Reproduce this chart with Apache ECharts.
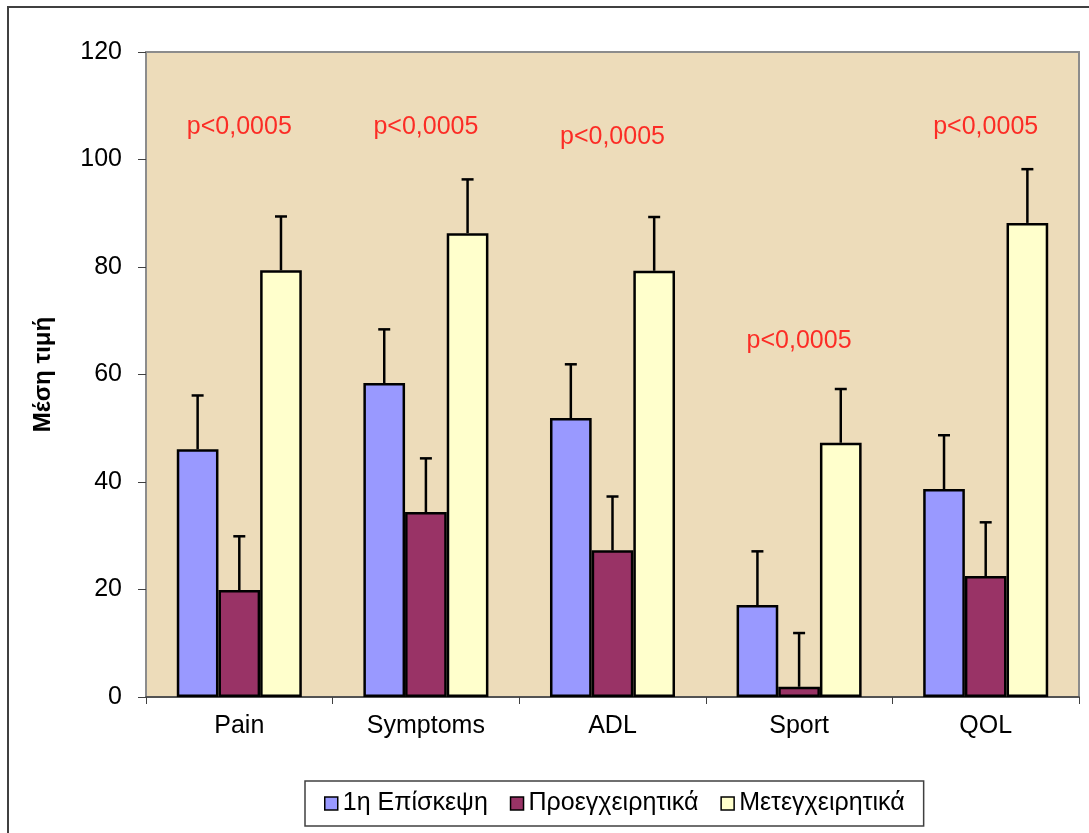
<!DOCTYPE html>
<html>
<head>
<meta charset="utf-8">
<script src="https://cdn.jsdelivr.net/npm/echarts@6/dist/echarts.min.js"></script>
<style>
html,body{margin:0;padding:0;background:#fff;}
#c{width:1089px;height:833px;}
</style>
</head>
<body>
<div id="c"></div>
<script>
const categories = ['Pain', 'Symptoms', 'ADL', 'Sport', 'QOL'];
const seriesNames = ['1η Επίσκεψη', 'Προεγχειρητικά', 'Μετεγχειρητικά'];
const visit1 = [46.1, 58.4, 51.9, 17.1, 38.7];
const preop = [19.9, 34.4, 27.3, 1.9, 22.5];
const postop = [79.4, 86.3, 79.3, 47.3, 88.2];
const visit1Err = [10, 10, 10, 10, 10];
const preopErr = [10, 10, 10, 10, 10];
const postopErr = [10, 10, 10, 10, 10];
const pText = 'p<0,0005';
const pY = [106, 106, 104.2, 66.2, 106];
const yTicks = [0, 20, 40, 60, 80, 100, 120];

const FONT = '"Liberation Sans", Arial, sans-serif';
const colors = ['#9999FF', '#993366', '#FFFFCC'];
const values = [visit1, preop, postop];
const errs = [visit1Err, preopErr, postopErr];
const GAP = 0.33;

const chart = echarts.init(document.getElementById('c'), null, {renderer: 'canvas'});

const barSeries = values.map((vals, s) => ({
  name: seriesNames[s],
  type: 'bar',
  data: vals,
  barGap: '0%',
  barCategoryGap: (GAP * 100) + '%',
  itemStyle: {color: colors[s], borderColor: '#000', borderWidth: 2.5},
  z: 2
}));

const errSeries = values.map((vals, s) => ({
  type: 'custom',
  name: 'err' + s,
  data: vals.map((v, i) => [i, v, errs[s][i]]),
  z: 3,
  renderItem: function (params, api) {
    const idx = api.value(0), v = api.value(1), e = api.value(2);
    const band = api.size([1, 0])[0];
    const bw = band * (1 - GAP) / 3;
    const off = (s - 1) * bw;
    const p0 = api.coord([idx, v]);
    const p1 = api.coord([idx, v + e]);
    const x = p0[0] + off;
    const st = {stroke: '#000', lineWidth: 2.5};
    return {
      type: 'group',
      children: [
        {type: 'line', shape: {x1: x, y1: p0[1], x2: x, y2: p1[1]}, style: st},
        {type: 'line', shape: {x1: x - 6, y1: p1[1], x2: x + 6, y2: p1[1]}, style: st}
      ]
    };
  }
}));

const option = {
  animation: false,
  backgroundColor: '#fff',
  textStyle: {fontFamily: FONT},
  grid: {
    left: 146, top: 52, right: 10, bottom: 136,
    show: true, backgroundColor: '#eddcba', borderColor: '#8c8c8c', borderWidth: 2
  },
  legend: {
    data: seriesNames,
    left: 305, top: 781,
    padding: [10, 19, 10, 19],
    borderColor: '#404040', borderWidth: 1.5,
    backgroundColor: '#fff',
    itemWidth: 13, itemHeight: 13, itemGap: 22,
    icon: 'rect',
    itemStyle: {borderColor: '#000', borderWidth: 1.5},
    textStyle: {fontFamily: FONT, fontSize: 25, color: '#000'}
  },
  xAxis: {
    type: 'category',
    data: categories,
    axisLine: {lineStyle: {color: '#404040', width: 1.5}},
    axisTick: {show: true, length: 7, lineStyle: {color: '#404040'}},
    axisLabel: {fontFamily: FONT, fontSize: 25, color: '#000', margin: 17},
    splitLine: {show: false}
  },
  yAxis: {
    type: 'value',
    min: yTicks[0], max: yTicks[yTicks.length - 1], interval: 20,
    name: 'Μέση τιμή',
    nameLocation: 'middle',
    nameGap: 91,
    nameTextStyle: {fontFamily: FONT, fontSize: 24, fontWeight: 'bold', color: '#000'},
    axisLine: {show: true, lineStyle: {color: '#8c8c8c', width: 2}},
    axisTick: {show: true, length: 8, lineStyle: {color: '#404040'}},
    axisLabel: {fontFamily: FONT, fontSize: 25, color: '#000', margin: 24},
    splitLine: {show: false}
  },
  series: [
    ...barSeries,
    ...errSeries,
    {
      type: 'scatter',
      name: 'p',
      data: pY.map((y, i) => [i, y]),
      symbolSize: 1,
      itemStyle: {color: 'rgba(0,0,0,0)'},
      label: {
        show: true, position: 'inside',
        formatter: pText,
        fontFamily: FONT, fontSize: 25, color: '#FF0000'
      },
      z: 4
    }
  ],
  graphic: [
    {
      type: 'rect', silent: true,
      shape: {x: 8, y: 7, width: 1200, height: 1000},
      style: {fill: 'none', stroke: '#404040', lineWidth: 2},
      z: 100
    }
  ]
};
chart.setOption(option);
</script>
</body>
</html>
